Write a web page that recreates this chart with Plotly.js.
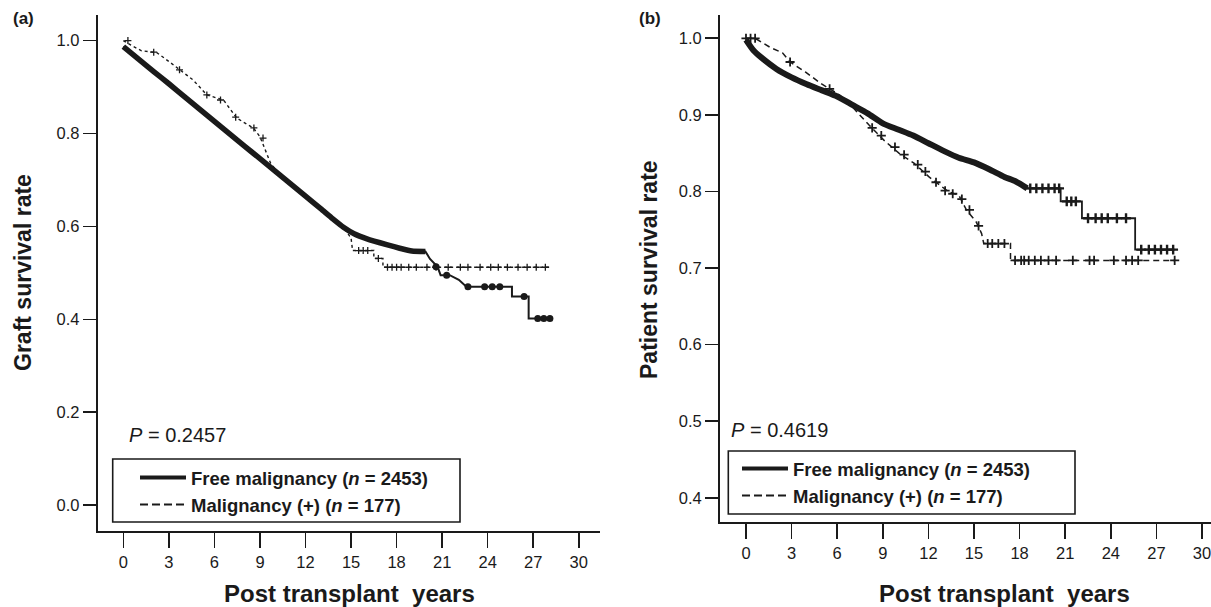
<!DOCTYPE html>
<html>
<head>
<meta charset="utf-8">
<script src="https://cdn.plot.ly/plotly-3.0.1.min.js"></script>
<style>html,body{margin:0;padding:0;background:#fff}#chart{width:1211px;height:607px}</style>
</head>
<body>
<div id="chart"></div>
<script>
// ---------- Panel (a): graft survival ----------
var aFreeX = [0,1,2,3,4,5,6,7,8,9,10,11,12,13,13.8,14.5,15.2,16.05,17.4,18.2,19.0,19.9,20.2,20.7,20.9,21.5,22.1,22.6,25.6,25.6,26.7,26.7,28.3];
var aFreeY = [0.987,0.960,0.933,0.907,0.880,0.853,0.826,0.799,0.772,0.746,0.719,0.692,0.665,0.638,0.616,0.598,0.584,0.573,0.560,0.553,0.547,0.546,0.530,0.513,0.495,0.495,0.485,0.470,0.470,0.449,0.449,0.402,0.402];
var aFreeDenseN = 22;
var aMalX = [0,0.5,1.2,2.2,3.0,3.74,4.6,5.5,6.6,7.47,8.56,9.0,9.45,9.7,10.2,11,12,13,13.8,14.5,15.0,15.1,16.5,16.5,17.1,17.1,28.1];
var aMalY = [1.0,0.990,0.978,0.974,0.955,0.937,0.915,0.883,0.872,0.833,0.812,0.793,0.757,0.736,0.715,0.692,0.665,0.638,0.616,0.598,0.575,0.548,0.548,0.531,0.531,0.512,0.512];
var aFreeCensX = [20.6,21.3,22.7,23.8,24.3,24.8,26.4,27.3,27.7,28.1];
var aFreeCensY = [0.513,0.495,0.470,0.470,0.470,0.470,0.449,0.402,0.402,0.402];
var aMalCensX = [0.3,2.0,3.7,5.5,6.4,7.4,8.6,9.2,15.5,15.8,16.1,16.8,17.4,17.7,18.0,18.3,18.8,19.3,20.0,20.6,21.4,22.2,22.7,23.5,24.2,24.7,25.3,26.0,26.6,27.2,27.8];
var aMalCensY = [1.0,0.975,0.937,0.883,0.872,0.835,0.812,0.790,0.548,0.548,0.548,0.531,0.512,0.512,0.512,0.512,0.512,0.512,0.512,0.512,0.512,0.512,0.512,0.512,0.512,0.512,0.512,0.512,0.512,0.512,0.512];

// ---------- Panel (b): patient survival ----------
var bFreeX = [0,0.5,1,2,3,4,5,6,7,8,9,10,11,12,13,14,15,16,17,17.75,18.5,20.7,20.7,22.1,22.1,25.6,25.6,28.2];
var bFreeY = [0.998,0.984,0.975,0.960,0.949,0.940,0.932,0.924,0.913,0.902,0.889,0.881,0.873,0.863,0.853,0.844,0.838,0.829,0.819,0.813,0.804,0.804,0.787,0.787,0.765,0.765,0.724,0.724];
var bFreeDenseN = 21;
var bMalX = [0,0.6,1.6,2.4,2.9,3.9,5,6,6.6,7.57,8.08,9.07,10.06,11.05,12.04,13.3,14.0,14.5,15.15,15.5,15.64,17.4,17.4,28.2];
var bMalY = [1.0,1.0,0.988,0.981,0.969,0.956,0.940,0.928,0.919,0.898,0.887,0.867,0.850,0.837,0.819,0.800,0.795,0.776,0.760,0.745,0.732,0.732,0.710,0.710];
var bFreeCensX = [18.7,19.1,19.5,19.9,20.3,20.6,21.1,21.4,21.7,22.5,23.0,23.4,23.8,24.4,25.0,26.0,26.5,26.9,27.3,27.7,28.1];
var bFreeCensY = [0.804,0.804,0.804,0.804,0.804,0.804,0.787,0.787,0.787,0.765,0.765,0.765,0.765,0.765,0.765,0.724,0.724,0.724,0.724,0.724,0.724];
var bMalCensX = [0,0.3,0.6,2.9,5.5,8.3,8.9,9.8,10.4,11.3,11.8,12.5,13.1,13.6,14.2,14.7,15.3,15.9,16.2,16.6,17.0,17.7,18.1,18.3,18.6,19.0,19.4,19.9,20.4,21.5,22.6,22.9,24.2,25.0,25.4,25.8,28.2];
var bMalCensY = [1.0,1.0,1.0,0.969,0.934,0.883,0.873,0.858,0.848,0.835,0.826,0.812,0.801,0.797,0.790,0.776,0.755,0.732,0.732,0.732,0.732,0.710,0.710,0.710,0.710,0.710,0.710,0.710,0.710,0.710,0.710,0.710,0.710,0.710,0.710,0.710,0.710];

var xTicks = [0,3,6,9,12,15,18,21,24,27,30];
var aYTicks = [0.0,0.2,0.4,0.6,0.8,1.0];
var bYTicks = [0.4,0.5,0.6,0.7,0.8,0.9,1.0];
var legendNames = ['<b>Free malignancy (<i>n</i> = 2453)</b>', '<b>Malignancy (+) (<i>n</i> = 177)</b>'];

var W = 1211, H = 607;
function px(x){return x/W;}
function py(y){return 1 - y/H;}
var INK = '#1a1a1a';
var FONT = 'Liberation Sans, Arial, Helvetica, sans-serif';

var traces = [
  // panel a
  {x:aFreeX, y:aFreeY, xaxis:'x', yaxis:'y', mode:'lines', line:{color:INK, width:2}, showlegend:false, hoverinfo:'skip'},
  {x:aFreeX.slice(0,aFreeDenseN), y:aFreeY.slice(0,aFreeDenseN), xaxis:'x', yaxis:'y', mode:'lines', line:{color:INK, width:5.5, shape:'spline', smoothing:0.6}, showlegend:false, hoverinfo:'skip'},
  {x:aMalX, y:aMalY, xaxis:'x', yaxis:'y', mode:'lines', line:{color:INK, width:1.4, dash:'3px,3px'}, showlegend:false, hoverinfo:'skip'},
  {x:aFreeCensX, y:aFreeCensY, xaxis:'x', yaxis:'y', mode:'markers', marker:{symbol:'circle', size:7, color:INK}, showlegend:false, hoverinfo:'skip'},
  {x:aMalCensX, y:aMalCensY, xaxis:'x', yaxis:'y', mode:'markers', marker:{symbol:'cross-thin', size:5, line:{color:INK, width:1.3}}, showlegend:false, hoverinfo:'skip'},
  {x:[null], y:[null], xaxis:'x', yaxis:'y', mode:'lines', name:legendNames[0], line:{color:INK, width:4}, legend:'legend'},
  {x:[null], y:[null], xaxis:'x', yaxis:'y', mode:'lines', name:legendNames[1], line:{color:INK, width:2, dash:'8px,4px'}, legend:'legend'},
  // panel b
  {x:bFreeX, y:bFreeY, xaxis:'x2', yaxis:'y2', mode:'lines', line:{color:INK, width:1.8}, showlegend:false, hoverinfo:'skip'},
  {x:bFreeX.slice(0,bFreeDenseN), y:bFreeY.slice(0,bFreeDenseN), xaxis:'x2', yaxis:'y2', mode:'lines', line:{color:INK, width:6, shape:'spline', smoothing:0.6}, showlegend:false, hoverinfo:'skip'},
  {x:bMalX, y:bMalY, xaxis:'x2', yaxis:'y2', mode:'lines', line:{color:INK, width:1.5, dash:'6px,4px'}, showlegend:false, hoverinfo:'skip'},
  {x:bFreeCensX, y:bFreeCensY, xaxis:'x2', yaxis:'y2', mode:'markers', marker:{symbol:'cross-thin', size:7, line:{color:INK, width:2.4}}, showlegend:false, hoverinfo:'skip'},
  {x:bMalCensX, y:bMalCensY, xaxis:'x2', yaxis:'y2', mode:'markers', marker:{symbol:'cross-thin', size:6.5, line:{color:INK, width:1.8}}, showlegend:false, hoverinfo:'skip'},
  {x:[null], y:[null], xaxis:'x2', yaxis:'y2', mode:'lines', name:legendNames[0], line:{color:INK, width:4}, legend:'legend2'},
  {x:[null], y:[null], xaxis:'x2', yaxis:'y2', mode:'lines', name:legendNames[1], line:{color:INK, width:2, dash:'8px,4px'}, legend:'legend2'}
];

var axisCommon = {
  showline:true, linecolor:INK, linewidth:2, ticks:'outside', tickcolor:INK, tickwidth:1.6,
  showgrid:false, zeroline:false, tickfont:{family:FONT, size:16.5, color:INK}, fixedrange:true,
  ticklabeloverflow:'allow'
};

function legendBox(x0,y0,x1,y1){
  return {type:'rect', xref:'paper', yref:'paper', x0:px(x0), x1:px(x1), y0:py(y1), y1:py(y0), line:{color:INK, width:1.6}, fillcolor:'rgba(0,0,0,0)'};
}
function legendCfg(x,y){
  return {x:px(x), y:py(y), xanchor:'left', yanchor:'top', bgcolor:'rgba(0,0,0,0)', borderwidth:0,
    font:{family:FONT, size:18.5, color:INK}, itemwidth:46, tracegroupgap:0};
}

var layout = {
  width:W, height:H, margin:{l:0,r:0,t:0,b:0}, paper_bgcolor:'#fff', plot_bgcolor:'rgba(0,0,0,0)',
  font:{family:FONT, color:INK},
  xaxis: Object.assign({}, axisCommon, {domain:[px(97.7), px(600)], range:[-1.69, 31.4], tickvals:xTicks, ticklen:15, anchor:'y'}),
  yaxis: Object.assign({}, axisCommon, {domain:[py(530.7), py(15)], range:[-0.055, 1.055], tickvals:aYTicks, tickformat:'.1f', ticklen:13, anchor:'x'}),
  xaxis2: Object.assign({}, axisCommon, {domain:[px(720), 1], range:[-1.71, 30.59], tickvals:xTicks, ticklen:15, anchor:'y2'}),
  yaxis2: Object.assign({}, axisCommon, {domain:[py(522.3), py(15)], range:[0.368, 1.0304], tickvals:bYTicks, tickformat:'.1f', ticklen:13, anchor:'x2'}),
  legend: legendCfg(135, 459),
  legend2: legendCfg(737, 450),
  shapes: [legendBox(112.7,459,460,522), legendBox(728.3,451,1075,514)],
  annotations: [
    {text:'<b>(a)</b>', xref:'paper', yref:'paper', x:px(11), y:py(18), xanchor:'left', yanchor:'middle', showarrow:false, font:{family:FONT, size:17, color:INK}},
    {text:'<b>(b)</b>', xref:'paper', yref:'paper', x:px(637), y:py(18), xanchor:'left', yanchor:'middle', showarrow:false, font:{family:FONT, size:17, color:INK}},
    {text:'<b>Graft survival rate</b>', xref:'paper', yref:'paper', x:px(23), y:py(273), xanchor:'center', yanchor:'middle', textangle:-90, showarrow:false, font:{family:FONT, size:23, color:INK}},
    {text:'<b>Patient survival rate</b>', xref:'paper', yref:'paper', x:px(649), y:py(270), xanchor:'center', yanchor:'middle', textangle:-90, showarrow:false, font:{family:FONT, size:23, color:INK}},
    {text:'<b>Post transplant  years</b>', xref:'paper', yref:'paper', x:px(349), y:py(593), xanchor:'center', yanchor:'middle', showarrow:false, font:{family:FONT, size:24, color:INK}},
    {text:'<b>Post transplant  years</b>', xref:'paper', yref:'paper', x:px(1004), y:py(593), xanchor:'center', yanchor:'middle', showarrow:false, font:{family:FONT, size:24, color:INK}},
    {text:'<i>P</i> = 0.2457', xref:'paper', yref:'paper', x:px(127), y:py(435), xanchor:'left', yanchor:'middle', showarrow:false, font:{family:FONT, size:20, color:INK}},
    {text:'<i>P</i> = 0.4619', xref:'paper', yref:'paper', x:px(729), y:py(430), xanchor:'left', yanchor:'middle', showarrow:false, font:{family:FONT, size:20, color:INK}}
  ]
};

Plotly.newPlot('chart', traces, layout, {staticPlot:true, displayModeBar:false});
</script>
</body>
</html>
